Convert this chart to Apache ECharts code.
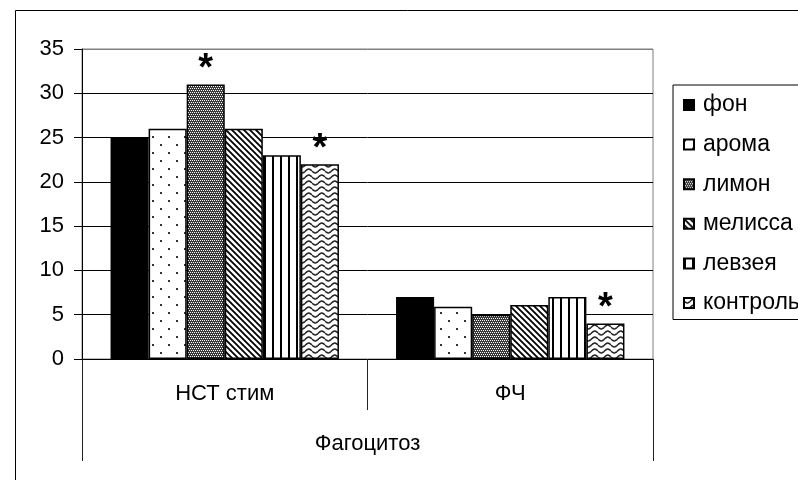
<!DOCTYPE html>
<html>
<head>
<meta charset="utf-8">
<script src="https://cdn.jsdelivr.net/npm/echarts@6/dist/echarts.min.js"></script>
<style>
  html, body { margin: 0; padding: 0; background: #fff; }
  #chart { width: 798px; height: 480px; }
</style>
</head>
<body>
<div id="chart"></div>
<script>
// Categories and values
const categories = ['НСТ стим', 'ФЧ'];
const groupLabel = ['Фагоцитоз'];
const seriesNames = ['фон', 'арома', 'лимон', 'мелисса', 'левзея', 'контроль'];
const fon      = [25, 7];
const aroma    = [26, 5.9];
const limon    = [31, 5];
const melissa  = [26, 6.1];
const levzeya  = [23, 7];
const kontrol  = [22, 4];
// Significance marks (asterisk) per category
const limonStar   = [true, false];
const kontrolStar = [true, true];
const yMin = 0, yMax = 35, yStep = 5;

const FONT = 'Liberation Sans, Arial, sans-serif';

// Fill textures
function tile(w, h, draw) {
  const c = document.createElement('canvas');
  c.width = w; c.height = h;
  const g = c.getContext('2d');
  g.fillStyle = '#fff';
  g.fillRect(0, 0, w, h);
  draw(g, w, h);
  return { image: c, repeat: 'repeat' };
}
const fillSolid = '#000';
const fillDots = tile(16, 16, g => {
  g.fillStyle = '#333';
  g.fillRect(0, 0, 2, 2);
  g.fillRect(8, 8, 2, 2);
});
const fillFine = tile(4, 4, g => {
  g.fillStyle = '#3a3a3a';
  g.fillRect(0, 0, 4, 4);
  g.fillStyle = '#fff';
  g.fillRect(0, 0, 1, 1);
  g.fillRect(2, 0, 1, 1);
  g.fillRect(1, 2, 1, 1);
  g.fillRect(3, 2, 1, 1);
});
const fillDiag = tile(6, 6, g => {
  g.strokeStyle = '#000';
  g.lineWidth = 1.8;
  g.beginPath();
  g.moveTo(-1, -1); g.lineTo(7, 7);
  g.moveTo(-4, 2); g.lineTo(4, 10);
  g.moveTo(2, -4); g.lineTo(10, 4);
  g.stroke();
});
const fillVert = tile(8, 8, g => {
  g.fillStyle = '#000';
  g.fillRect(0, 0, 2, 8);
});
const fillWave = tile(13, 6, g => {
  g.strokeStyle = '#222';
  g.lineWidth = 1.5;
  g.beginPath();
  for (let x = 0; x <= 13; x += 0.5) {
    const y = 3 + 1.9 * Math.sin(2 * Math.PI * x / 13);
    if (x === 0) g.moveTo(x, y); else g.lineTo(x, y);
  }
  g.stroke();
});

const fills = [fillSolid, fillDots, fillFine, fillDiag, fillVert, fillWave];
const values = [fon, aroma, limon, melissa, levzeya, kontrol];
const stars = [null, null, limonStar, null, null, kontrolStar];

const starLabel = {
  show: true,
  position: 'top',
  formatter: '*',
  distance: -4,
  fontSize: 38,
  fontWeight: 'bold',
  fontFamily: FONT,
  color: '#000'
};

const series = seriesNames.map((name, i) => ({
  name: name,
  type: 'bar',
  xAxisIndex: 0,
  barGap: '0%',
  barCategoryGap: '20%',
  itemStyle: { color: fills[i], borderColor: '#000', borderWidth: 1.5 },
  emphasis: { disabled: true },
  data: values[i].map((v, j) => {
    const d = { value: v };
    if (stars[i] && stars[i][j]) d.label = starLabel;
    return d;
  })
}));

const chart = echarts.init(document.getElementById('chart'), null, { renderer: 'canvas' });
chart.setOption({
  animation: false,
  backgroundColor: '#fff',
  textStyle: { fontFamily: FONT, color: '#000' },
  grid: {
    left: 82, right: 145, top: 49, bottom: 121,
    show: true, borderColor: '#808080', borderWidth: 1, backgroundColor: 'transparent'
  },
  legend: {
    orient: 'vertical',
    left: 673, top: 85,
    padding: [8.5, 30, 5, 10],
    itemWidth: 10, itemHeight: 10,
    itemGap: 16.6,
    icon: 'rect',
    borderColor: '#000', borderWidth: 1,
    backgroundColor: '#fff',
    textStyle: { fontSize: 23, fontFamily: FONT, color: '#000', lineHeight: 23, padding: [0, 0, 0, 4] },
    data: seriesNames
  },
  xAxis: [
    {
      type: 'category',
      data: categories,
      axisLine: { show: true, lineStyle: { color: '#000', width: 1 } },
      axisTick: { show: true, length: 51, interval: 0, lineStyle: { color: '#222' } },
      axisLabel: { margin: 24, fontSize: 22, fontFamily: FONT, color: '#000' },
      splitLine: { show: false }
    },
    {
      type: 'category',
      data: groupLabel,
      position: 'bottom',
      axisLine: { show: false },
      axisTick: { show: true, length: 102, lineStyle: { color: '#222' } },
      axisLabel: { margin: 74, fontSize: 22, fontFamily: FONT, color: '#000' },
      splitLine: { show: false }
    }
  ],
  yAxis: {
    type: 'value',
    min: yMin, max: yMax, interval: yStep,
    axisLine: { show: true, lineStyle: { color: '#000', width: 1 } },
    axisTick: { show: true, inside: false, length: 8, lineStyle: { color: '#000' } },
    axisLabel: { margin: 18, fontSize: 22, fontFamily: FONT, color: '#000' },
    splitLine: {
      show: true,
      lineStyle: { color: ['#000', '#000', '#000', '#000', '#000', '#000', '#000', '#808080'], width: 1 }
    }
  },
  graphic: [{
    type: 'rect',
    silent: true,
    z: -10,
    shape: { x: 15.5, y: 10.5, width: 820, height: 500 },
    style: { fill: 'none', stroke: '#000', lineWidth: 1 }
  }],
  series: series
});
</script>
</body>
</html>
